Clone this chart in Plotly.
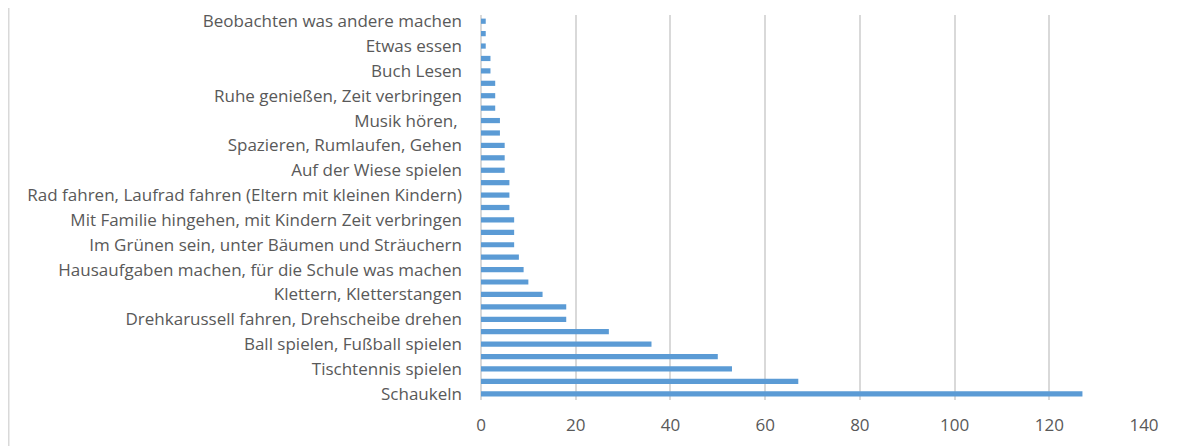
import plotly.graph_objects as go

# Categories from bottom (index 0) to top; only every other one is labelled in the source
categories = [
    "Schaukeln", "(ohne Beschriftung 2)", "Tischtennis spielen", "(ohne Beschriftung 4)",
    "Ball spielen, Fußball spielen", "(ohne Beschriftung 6)",
    "Drehkarussell fahren, Drehscheibe drehen", "(ohne Beschriftung 8)",
    "Klettern, Kletterstangen", "(ohne Beschriftung 10)",
    "Hausaufgaben machen, für die Schule was machen", "(ohne Beschriftung 12)",
    "Im Grünen sein, unter Bäumen und Sträuchern", "(ohne Beschriftung 14)",
    "Mit Familie hingehen, mit Kindern Zeit verbringen", "(ohne Beschriftung 16)",
    "Rad fahren, Laufrad fahren (Eltern mit kleinen Kindern)", "(ohne Beschriftung 18)",
    "Auf der Wiese spielen", "(ohne Beschriftung 20)",
    "Spazieren, Rumlaufen, Gehen", "(ohne Beschriftung 22)",
    "Musik hören, ", "(ohne Beschriftung 24)",
    "Ruhe genießen, Zeit verbringen", "(ohne Beschriftung 26)",
    "Buch Lesen", "(ohne Beschriftung 28)",
    "Etwas essen", "(ohne Beschriftung 30)",
    "Beobachten was andere machen",
]
values = [127, 67, 53, 50, 36, 27, 18, 18, 13, 10, 9, 8, 7, 7, 7, 6, 6, 6,
          5, 5, 5, 4, 4, 3, 3, 3, 2, 2, 1, 1, 1]
labelled = categories[0::2]
x_ticks = [0, 20, 40, 60, 80, 100, 120, 140]

# page body has an 8px default margin, so the figure is sized to fit inside it
W, H = 1174, 438
L, R, T, B = 473, 38, 7, 46
pw, ph = W - L - R, H - T - B

fig = go.Figure(go.Bar(
    y=categories, x=values, orientation="h",
    marker=dict(color="#5B9BD5", line=dict(width=0)),
))

fig.update_layout(
    width=W, height=H,
    margin=dict(l=L, r=R, t=T, b=B),
    paper_bgcolor="white", plot_bgcolor="white",
    bargap=0.58,
    showlegend=False,
    font=dict(family="Open Sans", size=17, color="#595959"),
    shapes=[dict(type="line", xref="paper", yref="paper",
                 x0=-(L - 0.5) / pw, x1=-(L - 0.5) / pw,
                 y0=-B / ph, y1=1 + T / ph,
                 line=dict(color="#d9d9d9", width=2))],
)
fig.update_xaxes(
    range=[0, 140], tickvals=x_ticks, showgrid=True,
    gridcolor="#d9d9d9", gridwidth=2, zeroline=True,
    zerolinecolor="#d9d9d9", zerolinewidth=2,
    showline=False, ticks="", tickfont=dict(size=17),
    ticklabelstandoff=13, automargin=False,
)
fig.update_yaxes(
    type="category", categoryorder="array", categoryarray=categories,
    tickvals=labelled, ticktext=labelled,
    showgrid=False, ticks="", ticklabelstandoff=18,
    tickfont=dict(size=17), automargin=False,
)

fig.write_html("out.html")
